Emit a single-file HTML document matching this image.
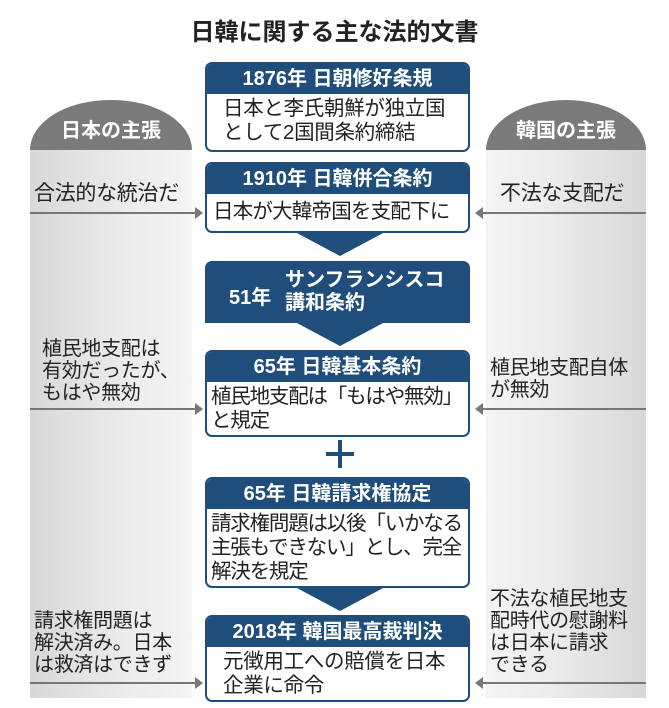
<!DOCTYPE html>
<html><head><meta charset="utf-8"><style>
body{margin:0;width:669px;height:708px;background:#fff;position:relative;overflow:hidden;font-family:"Liberation Sans","Noto Sans CJK JP",sans-serif;}
.a{position:absolute}
.panel{background:linear-gradient(to right,#d8d8d8,#ececec 60%,#f4f4f4);}
.panelR{background:linear-gradient(to left,#d8d8d8,#ececec 60%,#f4f4f4);}
.dome{background:#7a7a7a;border-radius:80px 80px 0 0/50px 50px 0 0;color:#fff;font-weight:bold;font-size:20px;text-align:center;}
.box{position:absolute;left:205px;width:265px;border:2px solid #1f4d7c;border-radius:7px;background:#fff;overflow:hidden;box-sizing:border-box}
.hd{background:#1f4d7c;color:#fff;font-weight:bold;font-size:20px;text-align:center;height:30px;line-height:30px;white-space:nowrap}
.bd{font-size:20.5px;line-height:24px;color:#222;padding:3px 0 0 10px;white-space:nowrap;letter-spacing:-0.3px}
.t{font-size:20px;line-height:22px;color:#222;white-space:nowrap;letter-spacing:-0.3px}
.tri{position:absolute;width:0;height:0;border-left:45px solid transparent;border-right:45px solid transparent;border-top:24px solid #1f4d7c;left:295px}
</style></head><body>
<div class="a" style="left:0;width:669px;top:12px;text-align:center;font-size:24px;font-weight:bold;color:#222">日韓に関する主な法的文書</div>

<div class="a panel" style="left:30px;top:150px;width:162px;height:548px"></div>
<div class="a panelR" style="left:486px;top:150px;width:160px;height:548px"></div>
<div class="a dome" style="left:30px;top:100px;width:162px;height:50px;line-height:62px">日本の主張</div>
<div class="a dome" style="left:486px;top:100px;width:160px;height:50px;line-height:62px">韓国の主張</div>

<div class="box" style="top:62px;height:90px"><div class="hd">1876年 日朝修好条規</div><div class="bd" style="padding-left:16px">日本と李氏朝鮮が独立国<br>として2国間条約締結</div></div>
<div class="box" style="top:162px;height:71px"><div class="hd">1910年 日韓併合条約</div><div class="bd" style="padding-top:6px;padding-left:6px;letter-spacing:-0.8px">日本が大韓帝国を支配下に</div></div>
<div class="tri" style="top:232px"></div>
<div class="a" style="left:205px;top:261px;width:265px;height:62px;background:#1f4d7c;border-radius:7px 7px 0 0;color:#fff;font-weight:bold;font-size:20px">
<div class="a" style="left:24px;top:20px">51年</div><div class="a" style="left:80px;top:8px;line-height:23px;white-space:nowrap">サンフランシスコ<br>講和条約</div></div>
<div class="tri" style="top:322px"></div>
<div class="box" style="top:350px;height:87px"><div class="hd">65年 日韓基本条約</div><div class="bd" style="padding-left:4px;letter-spacing:-1.2px">植民地支配は「もはや無効」<br>と規定</div></div>
<div class="a" style="left:326px;top:452px;width:28px;height:4px;background:#1f4d7c"></div>
<div class="a" style="left:338px;top:440px;width:4px;height:28px;background:#1f4d7c"></div>
<div class="box" style="top:477px;height:111px"><div class="hd">65年 日韓請求権協定</div><div class="bd" style="padding-left:4px;letter-spacing:-1.2px">請求権問題は以後「いかなる<br>主張もできない」とし、完全<br>解決を規定</div></div>
<div class="tri" style="top:587px"></div>
<div class="box" style="top:615px;height:87px"><div class="hd">2018年 韓国最高裁判決</div><div class="bd" style="padding-left:16px">元徴用工への賠償を日本<br>企業に命令</div></div>

<div class="a t" style="left:34px;top:183px;font-size:21px">合法的な統治だ</div>
<div class="a t" style="left:500px;top:183px;font-size:21px">不法な支配だ</div>
<div class="a t" style="left:42px;top:338px">植民地支配は<br>有効だったが、<br>もはや無効</div>
<div class="a t" style="left:490px;top:357px">植民地支配自体<br>が無効</div>
<div class="a t" style="left:34px;top:610px">請求権問題は<br>解決済み。日本<br>は救済はできず</div>
<div class="a t" style="left:490px;top:588px">不法な植民地支<br>配時代の慰謝料<br>は日本に請求<br>できる</div>

<svg class="a" style="left:0;top:0" width="669" height="708">
<g fill="#777" stroke="none">
<rect x="30" y="212" width="166" height="2"/><polygon points="195,207 203,213 195,219"/>
<rect x="482" y="212" width="164" height="2"/><polygon points="483,207 475,213 483,219"/>
<rect x="30" y="408" width="166" height="2"/><polygon points="195,403 203,409 195,415"/>
<rect x="482" y="408" width="164" height="2"/><polygon points="483,403 475,409 483,415"/>
<rect x="30" y="682" width="166" height="2"/><polygon points="195,677 203,683 195,689"/>
<rect x="482" y="682" width="164" height="2"/><polygon points="483,677 475,683 483,689"/>
</g></svg>
</body></html>
